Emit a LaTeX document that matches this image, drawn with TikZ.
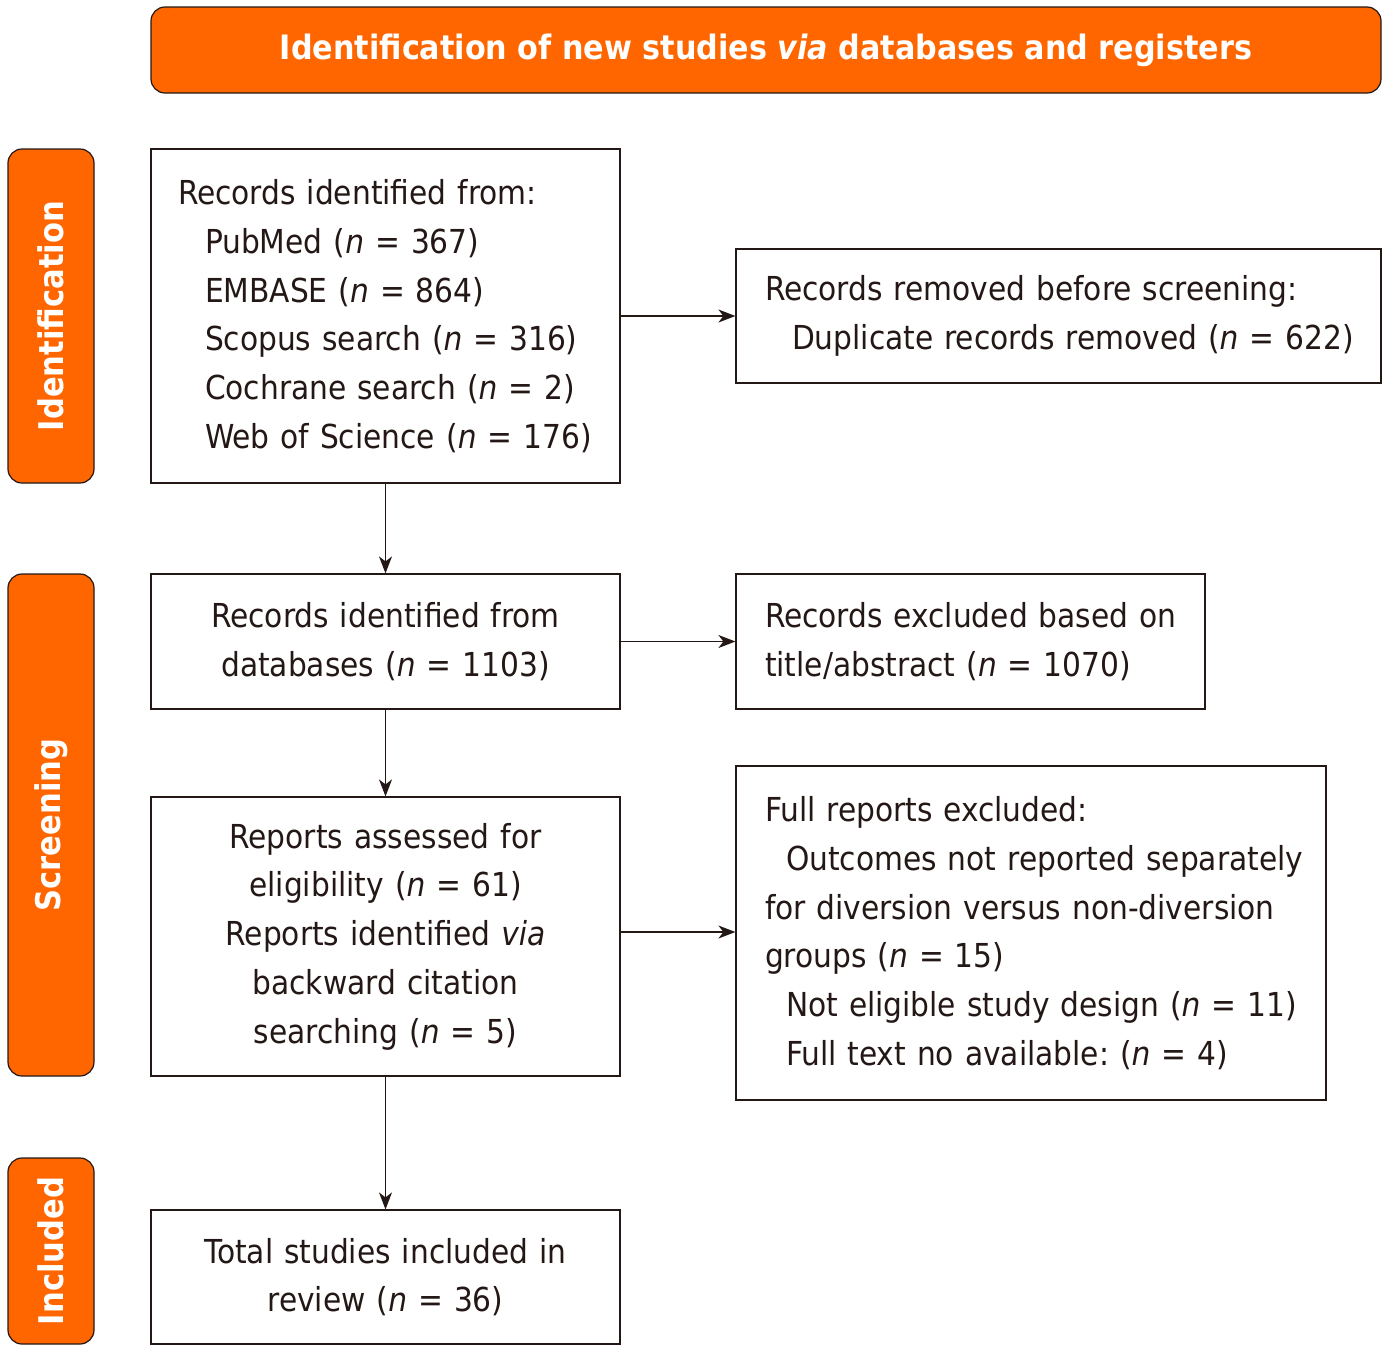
\documentclass[tikz,border=0pt]{standalone}
\usepackage{fontspec}
\setmainfont{DejaVu Sans Condensed}
\usetikzlibrary{arrows.meta}
\definecolor{orng}{HTML}{FF6600}
\definecolor{ink}{HTML}{231815}
\newcommand{\tx}{\fontsize{33}{48.7}\selectfont\frenchspacing}
\newcommand{\nn}{\textit{n}}
\begin{document}
\begin{tikzpicture}[x=1pt,y=-1pt,
  box/.style={draw=ink, line width=1.2pt, fill=white, inner sep=0pt, text=ink, font=\tx},
  tab/.style={draw=ink, line width=1.2pt, fill=orng, rounded corners=14pt, inner sep=0pt, text=white, font=\fontsize{34}{40}\selectfont\bfseries},
  arr/.style={-{Stealth[length=17pt,width=13pt,inset=5pt]}, line width=1.3pt, draw=ink}]
\useasboundingbox (0,0) rectangle (1389,1353);
% banner
\node[tab, font=\fontsize{33.6}{40}\selectfont\bfseries, minimum width=1230, minimum height=86] (ban) at (766,50) {Identification of new studies \textit{via} databases and registers};
% side tabs
\node[tab, rotate=90, minimum width=334, minimum height=86] (t1) at (51,316) {Identification};
\node[tab, rotate=90, minimum width=502, minimum height=86] (t2) at (51,825) {Screening};
\node[tab, rotate=90, minimum width=186, minimum height=86] (t3) at (51,1251) {Included};
% boxes
\node[box, minimum width=469, minimum height=334, text width=415, align=left] (b1) at (385.5,316)
 {\mbox{Records identified from:}\\
  \mbox{\hspace*{27pt}PubMed (\nn\ = 367)}\\
  \mbox{\hspace*{27pt}EMBASE (\nn\ = 864)}\\
  \mbox{\hspace*{27pt}Scopus search (\nn\ = 316)}\\
  \mbox{\hspace*{27pt}Cochrane search (\nn\ = 2)}\\
  \mbox{\hspace*{27pt}Web of Science (\nn\ = 176)}};
\node[box, minimum width=645, minimum height=134, text width=587, align=left] (b2) at (1058.5,316)
 {\mbox{Records removed before screening:}\\
  \mbox{\hspace*{27pt}Duplicate records removed (\nn\ = 622)}};
\node[box, minimum width=469, minimum height=135, text width=415, align=center] (b3) at (385.5,641.5)
 {\mbox{Records identified from}\\
  \mbox{databases (\nn\ = 1103)}};
\node[box, minimum width=469, minimum height=135, text width=411, align=left] (b4) at (970.5,641.5)
 {\mbox{Records excluded based on}\\
  \mbox{title/abstract (\nn\ = 1070)}};
\node[box, minimum width=469, minimum height=279, text width=415, align=center] (b5) at (385.5,936.5)
 {\mbox{Reports assessed for}\\
  \mbox{eligibility (\nn\ = 61)}\\
  \mbox{Reports identified \textit{via}}\\
  \mbox{backward citation}\\
  \mbox{searching (\nn\ = 5)}};
\node[box, minimum width=590, minimum height=334, text width=532, align=left] (b6) at (1031,933)
 {\mbox{Full reports excluded:}\\
  \mbox{\hspace*{21pt}Outcomes not reported separately}\\
  \mbox{for diversion versus non-diversion}\\
  \mbox{groups (\nn\ = 15)}\\
  \mbox{\hspace*{21pt}Not eligible study design (\nn\ = 11)}\\
  \mbox{\hspace*{21pt}Full text no available: (\nn\ = 4)}};
\node[box, minimum width=469, minimum height=134, text width=415, align=center] (b7) at (385.5,1277)
 {\mbox{Total studies included in}\\
  \mbox{review (\nn\ = 36)}};
% arrows
\draw[arr] (b1.east) -- (b2.west);
\draw[arr] (b1.south) -- (b3.north);
\draw[arr] (b3.east) -- (b4.west);
\draw[arr] (b3.south) -- (b5.north);
\draw[arr] ([yshift=4.5pt]b5.east) -- ([yshift=4.5pt]b5.east -| b6.west);
\draw[arr] (b5.south) -- (b7.north);
\end{tikzpicture}
\end{document}
